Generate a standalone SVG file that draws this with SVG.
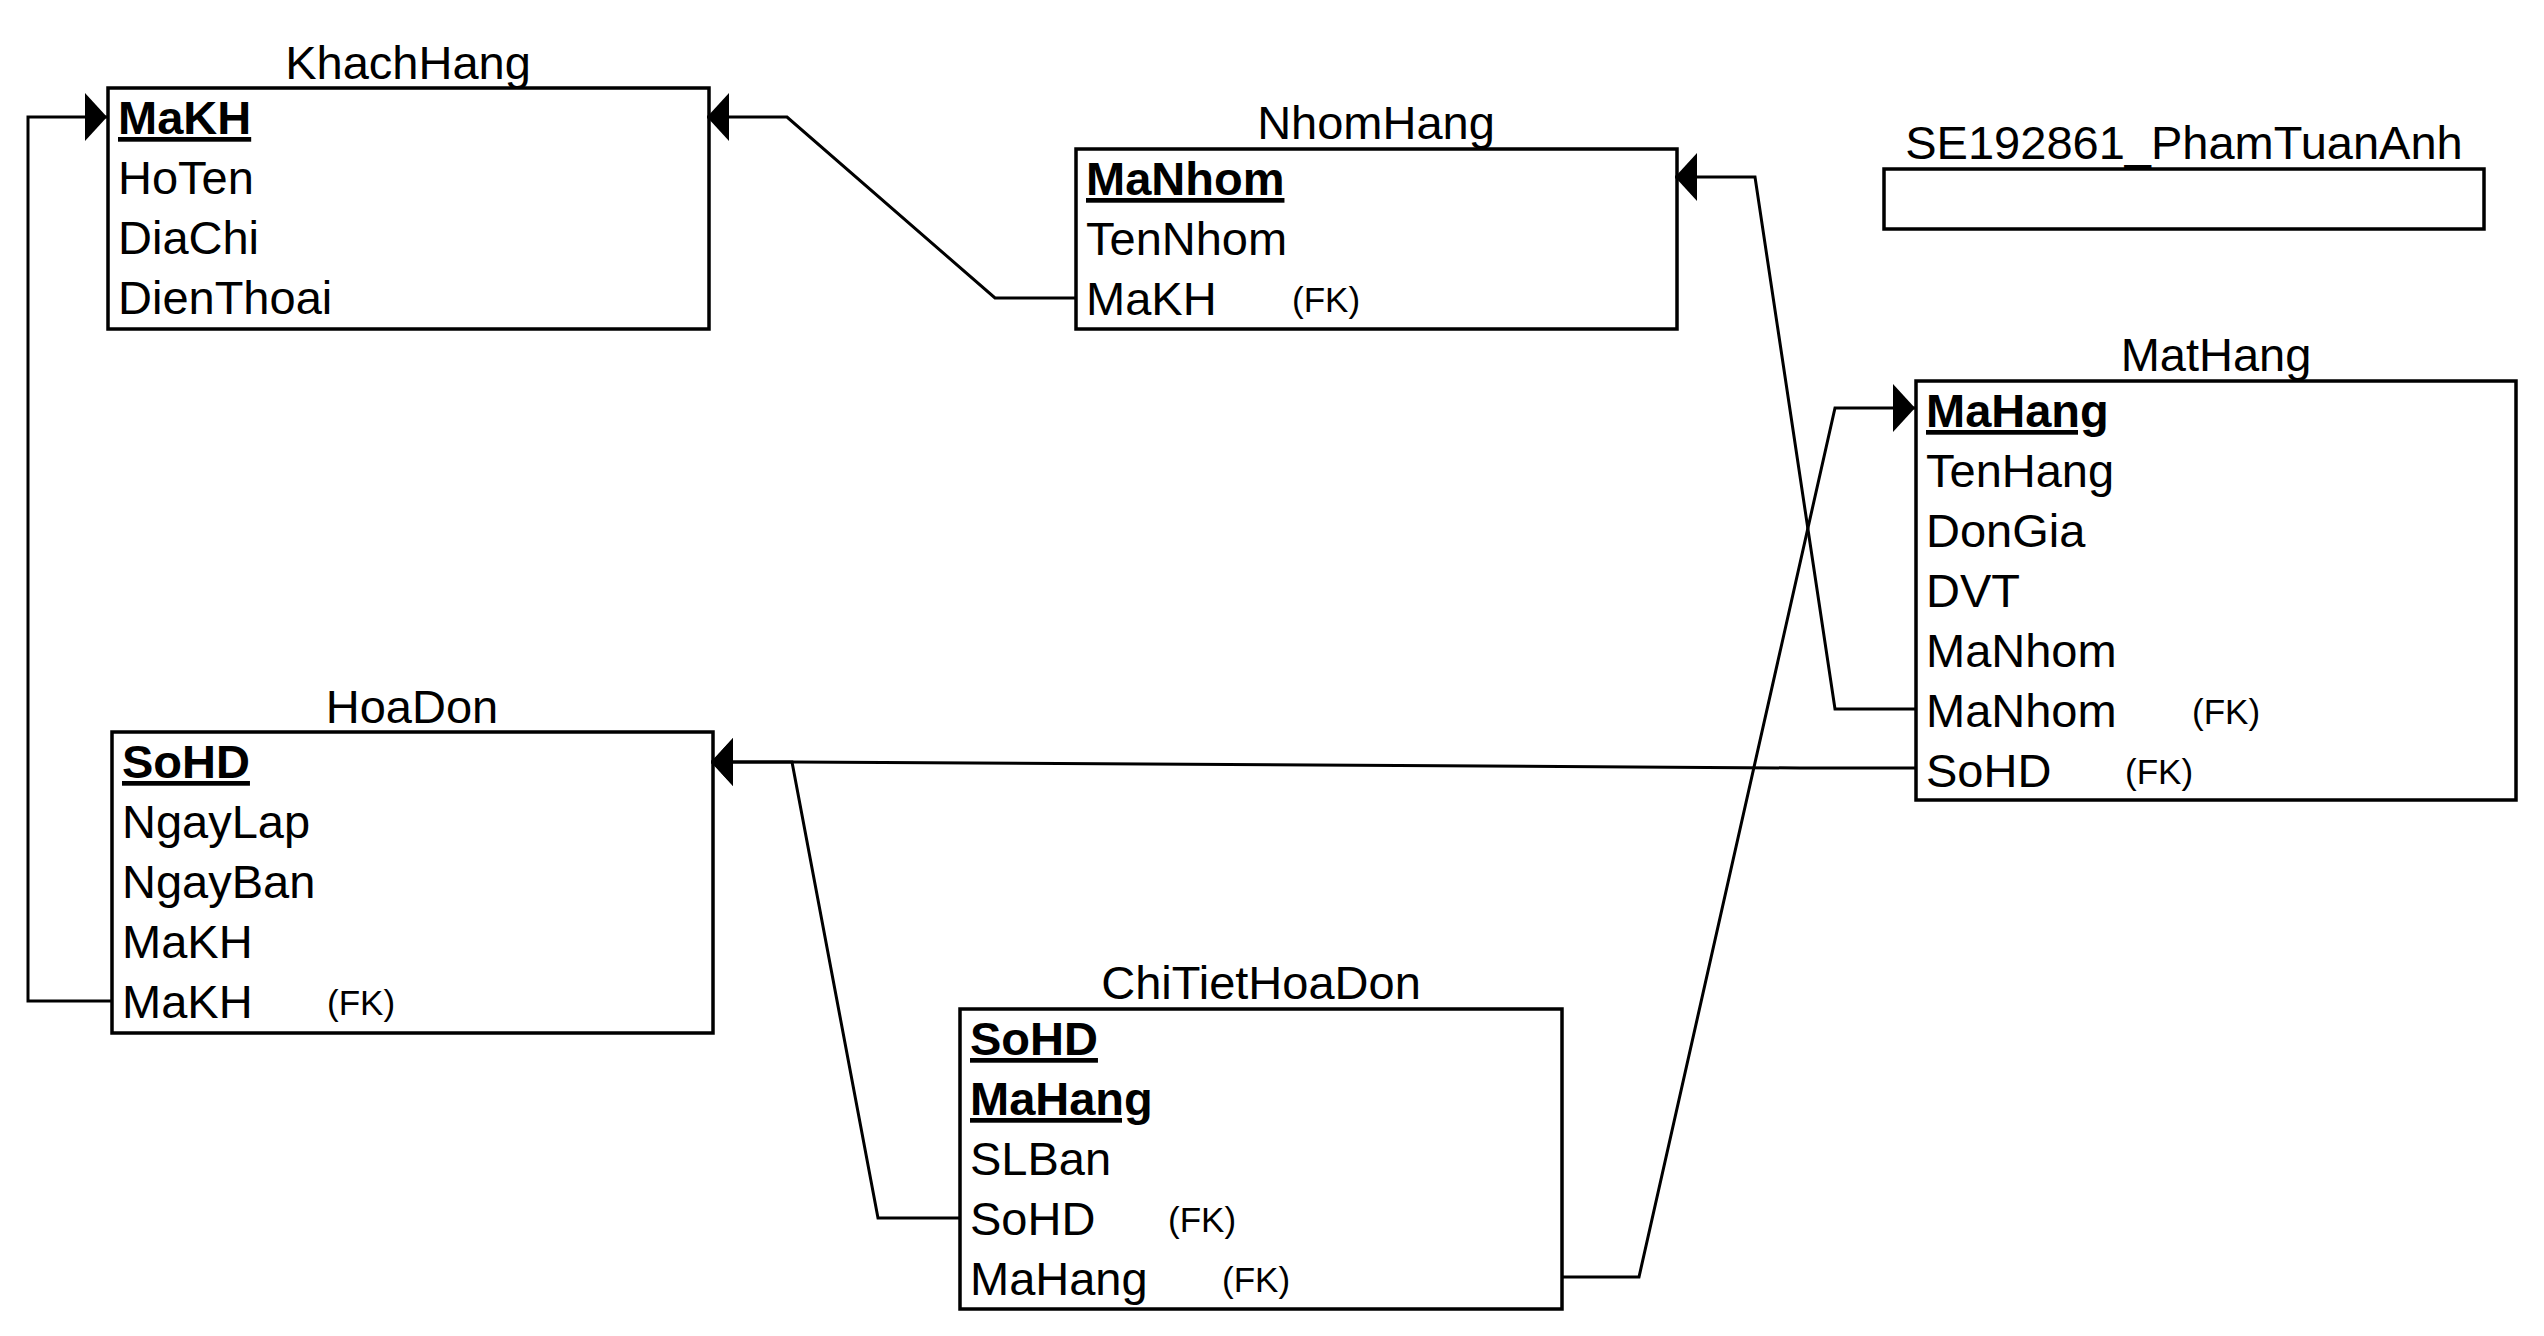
<svg xmlns="http://www.w3.org/2000/svg" width="2544" height="1336" viewBox="0 0 2544 1336">
<style>
text{font-family:"Liberation Sans",Arial,Helvetica,sans-serif;fill:#000}
.t{font-size:47px;text-anchor:middle}
.f{font-size:47px}
.pk{font-size:47px;font-weight:bold;text-decoration:underline}
.fk{font-size:35px}
.box{fill:#fff;stroke:#000;stroke-width:3.5}
.c{fill:none;stroke:#000;stroke-width:3;stroke-linejoin:miter}
</style>
<defs>
<marker id="arr" viewBox="-24 -26 28 52" markerWidth="28" markerHeight="52" refX="0" refY="0" markerUnits="userSpaceOnUse" orient="auto">
<path d="M0,0 L-22,-24 L-22,24 z" fill="#000"/>
</marker>
</defs>
<rect x="0" y="0" width="2544" height="1336" fill="#fff"/>

<g id="KhachHang">
<text class="t" x="408" y="79">KhachHang</text>
<rect class="box" x="108" y="88" width="601" height="241"/>
<text class="pk" x="118" y="134">MaKH</text>
<text class="f" x="118" y="194">HoTen</text>
<text class="f" x="118" y="254">DiaChi</text>
<text class="f" x="118" y="314">DienThoai</text>
</g>

<g id="NhomHang">
<text class="t" x="1376" y="139">NhomHang</text>
<rect class="box" x="1076" y="149" width="601" height="180"/>
<text class="pk" x="1086" y="195">MaNhom</text>
<text class="f" x="1086" y="255">TenNhom</text>
<text class="f" x="1086" y="315">MaKH</text>
<text class="fk" x="1292" y="312">(FK)</text>
</g>

<g id="SE192861_PhamTuanAnh">
<text class="t" x="2184" y="159">SE192861_PhamTuanAnh</text>
<rect class="box" x="1884" y="169" width="600" height="60"/>
</g>

<g id="MatHang">
<text class="t" x="2216" y="371">MatHang</text>
<rect class="box" x="1916" y="381" width="600" height="419"/>
<text class="pk" x="1926" y="427">MaHang</text>
<text class="f" x="1926" y="487">TenHang</text>
<text class="f" x="1926" y="547">DonGia</text>
<text class="f" x="1926" y="607">DVT</text>
<text class="f" x="1926" y="667">MaNhom</text>
<text class="f" x="1926" y="727">MaNhom</text>
<text class="fk" x="2192" y="724">(FK)</text>
<text class="f" x="1926" y="787">SoHD</text>
<text class="fk" x="2125" y="784">(FK)</text>
</g>

<g id="HoaDon">
<text class="t" x="412" y="723">HoaDon</text>
<rect class="box" x="112" y="732" width="601" height="301"/>
<text class="pk" x="122" y="778">SoHD</text>
<text class="f" x="122" y="838">NgayLap</text>
<text class="f" x="122" y="898">NgayBan</text>
<text class="f" x="122" y="958">MaKH</text>
<text class="f" x="122" y="1018">MaKH</text>
<text class="fk" x="327" y="1015">(FK)</text>
</g>

<g id="ChiTietHoaDon">
<text class="t" x="1261" y="999">ChiTietHoaDon</text>
<rect class="box" x="960" y="1009" width="602" height="300"/>
<text class="pk" x="970" y="1055">SoHD</text>
<text class="pk" x="970" y="1115">MaHang</text>
<text class="f" x="970" y="1175">SLBan</text>
<text class="f" x="970" y="1235">SoHD</text>
<text class="fk" x="1168" y="1232">(FK)</text>
<text class="f" x="970" y="1295">MaHang</text>
<text class="fk" x="1222" y="1292">(FK)</text>
</g>

<g id="connectors">
<path class="c" d="M112,1001 L28,1001 L28,117 L107,117" marker-end="url(#arr)"/>
<path class="c" d="M1076,298 L995,298 L787,117 L707,117" marker-end="url(#arr)"/>
<path class="c" d="M1916,709 L1835,709 L1755,177 L1675,177" marker-end="url(#arr)"/>
<path class="c" d="M1562,1277 L1639,1277 L1835,408 L1915,408" marker-end="url(#arr)"/>
<path class="c" d="M1916,768 L1800,768 L792,762 L711,762" marker-end="url(#arr)"/>
<path class="c" d="M960,1218 L878,1218 L792,762 L711,762" marker-end="url(#arr)"/>
</g>
</svg>
